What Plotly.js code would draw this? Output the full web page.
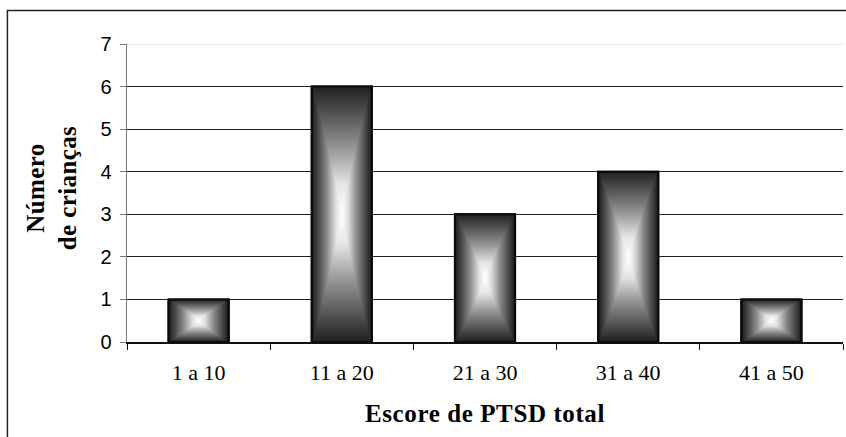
<!DOCTYPE html>
<html>
<head>
<meta charset="utf-8">
<script src="https://cdn.plot.ly/plotly-3.0.1.min.js"></script>
<style>
html,body{margin:0;padding:0;background:#fff;}
#chart{width:846px;height:437px;}
</style>
</head>
<body>
<div id="chart"></div>
<script>
const categories = ["1 a 10", "11 a 20", "21 a 30", "31 a 40", "41 a 50"];
const counts = [1, 6, 3, 4, 1];
const yTickValues = [0, 1, 2, 3, 4, 5, 6, 7];
const xTitle = "Escore de PTSD total";
const yTitle = "Número<br>de crianças";

const trace = {
  type: "bar",
  x: categories,
  y: counts,
  width: 0.42,
  marker: { color: "#888", line: { color: "#0a0a0a", width: 2 } },
  hoverinfo: "none"
};

const layout = {
  width: 846, height: 437,
  margin: { l: 127, r: 3, t: 44, b: 95 },
  paper_bgcolor: "#fff", plot_bgcolor: "#fff",
  showlegend: false,
  font: { family: "Liberation Serif", color: "#000" },
  xaxis: {
    type: "category",
    tickson: "boundaries",
    ticks: "outside", ticklen: 6, tickcolor: "#111", tickwidth: 1,
    showline: true, linecolor: "#111", linewidth: 1.5,
    showgrid: false, zeroline: false,
    tickfont: { family: "Liberation Serif", size: 22, color: "#000" },
    ticklabelstandoff: 10,
    title: { text: xTitle, font: { family: "Liberation Serif", size: 25, weight: "bold", color: "#000" }, standoff: 20 },
    fixedrange: true
  },
  yaxis: {
    range: [0, 7],
    tickvals: yTickValues,
    ticks: "outside", ticklen: 6, tickcolor: "#777", tickwidth: 1,
    showline: true, linecolor: "#777", linewidth: 1.5,
    showgrid: true, gridcolor: "#222", gridwidth: 1.2,
    zeroline: false,
    tickfont: { family: "Liberation Sans", size: 20, color: "#000" },
    ticklabelstandoff: 4,
    title: { text: yTitle, font: { family: "Liberation Serif", size: 25, weight: "bold", color: "#000" }, standoff: 16 },
    fixedrange: true
  },
  shapes: [
    { type: "line", xref: "paper", yref: "y", x0: 0, x1: 1, y0: 7, y1: 7, line: { color: "#ddd", width: 1.5 }, layer: "above" },
    { type: "rect", xref: "paper", yref: "paper", x0: -0.167, x1: 1.2, y0: -0.6, y1: 1.112, line: { color: "#222", width: 1.5 }, fillcolor: "rgba(0,0,0,0)", layer: "above" }
  ]
};

Plotly.newPlot("chart", [trace], layout, { displayModeBar: false, staticPlot: true }).then(function (gd) {
  const ns = "http://www.w3.org/2000/svg";
  const svg = gd.querySelector("svg.main-svg");
  let defs = svg.querySelector("defs");
  if (!defs) { defs = document.createElementNS(ns, "defs"); svg.insertBefore(defs, svg.firstChild); }
  function makeGrad(id, horizontal, stops) {
    const g = document.createElementNS(ns, "linearGradient");
    g.setAttribute("id", id);
    g.setAttribute("x1", "0"); g.setAttribute("y1", "0");
    g.setAttribute("x2", horizontal ? "1" : "0"); g.setAttribute("y2", horizontal ? "0" : "1");
    stops.forEach(function (s) {
      const st = document.createElementNS(ns, "stop");
      st.setAttribute("offset", s[0]);
      st.setAttribute("stop-color", s[1]);
      g.appendChild(st);
    });
    defs.appendChild(g);
  }
  makeGrad("gradH", true, [[0, "#1a1a1a"], [0.1, "#454545"], [0.25, "#8a8a8a"], [0.4, "#e0e0e0"], [0.5, "#ffffff"], [0.6, "#e0e0e0"], [0.75, "#8a8a8a"], [0.9, "#454545"], [1, "#1a1a1a"]]);
  makeGrad("gradV", false, [[0, "#202020"], [0.1, "#505050"], [0.25, "#9a9a9a"], [0.38, "#e4e4e4"], [0.5, "#ffffff"], [0.62, "#e4e4e4"], [0.75, "#9a9a9a"], [0.9, "#505050"], [1, "#202020"]]);
  gd.querySelectorAll(".barlayer .point path").forEach(function (p) {
    p.style.fill = "url(#gradH)";
    p.style.fillOpacity = 1;
    const c = p.cloneNode(true);
    c.style.fill = "url(#gradV)";
    c.style.stroke = "none";
    c.style.mixBlendMode = "darken";
    p.parentNode.insertBefore(c, p.nextSibling);
    const s = p.cloneNode(true);
    s.style.fill = "none";
    p.parentNode.insertBefore(s, c.nextSibling);
  });
  gd.querySelectorAll(".g-xtitle text").forEach(function (t) { t.style.letterSpacing = "0.6px"; });
  gd.querySelectorAll(".g-ytitle text").forEach(function (t) { t.style.letterSpacing = "0.4px"; });
  gd.querySelectorAll(".g-ytitle").forEach(function (g) { g.setAttribute("transform", "translate(0,-5)"); });
});
</script>
</body>
</html>
